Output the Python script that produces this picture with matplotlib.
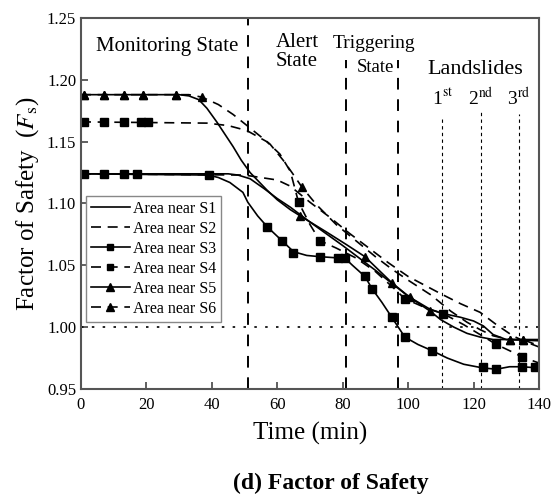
import matplotlib
matplotlib.use("Agg")
import matplotlib.pyplot as plt

plt.rcParams['font.family'] = ['Liberation Serif', 'DejaVu Serif']
plt.rcParams['mathtext.fontset'] = 'stix'

# ---------------------- data ----------------------
# Area near S1 (solid, no marker)
s1_t = [0, 45, 48, 51.7, 56, 60, 64, 70, 80, 90, 100, 107, 110.7, 116, 120, 123, 126, 130, 140]
s1_f = [1.124, 1.124, 1.123, 1.120, 1.112, 1.104, 1.097, 1.085, 1.066, 1.046, 1.025, 1.014,
        1.011, 1.008, 1.005, 1.001, 0.994, 0.990, 0.989]

# Area near S2 (dashed, no marker)
s2_t = [0, 50, 55, 60, 64, 70, 76, 82, 88, 94, 100, 105, 110, 116, 122, 127, 132, 136, 140]
s2_f = [1.124, 1.123, 1.121, 1.119, 1.114, 1.101, 1.089, 1.076, 1.064, 1.052, 1.041, 1.034,
        1.027, 1.019, 1.012, 1.002, 0.993, 0.988, 0.984]

# Area near S3 (solid, squares)
s3_t = [0, 39, 42, 45.5, 49.5, 51, 54, 57, 61, 65, 69, 73, 78.6, 81, 83, 86.8, 89, 92, 95, 99,
        103, 107.3, 112, 117, 122.9, 127, 131, 134.8, 140]
s3_f = [1.124, 1.123, 1.121, 1.117, 1.109, 1.101, 1.090, 1.081, 1.071, 1.061, 1.058, 1.057,
        1.056, 1.055, 1.050, 1.041, 1.031, 1.020, 1.008, 0.992, 0.986, 0.981, 0.975, 0.970,
        0.967, 0.966, 0.968, 0.968, 0.967]
s3_mt = [1, 7, 13, 17, 39, 57, 61.3, 64.8, 73, 78.6, 80.7, 86.8, 89, 95, 99, 107.3, 122.9, 127,
         134.8, 138.8]
s3_mf = [1.124, 1.124, 1.124, 1.124, 1.123, 1.081, 1.070, 1.060, 1.057, 1.056, 1.056, 1.041,
         1.031, 1.008, 0.992, 0.981, 0.968, 0.966, 0.968, 0.968]

# Area near S4 (dashed, squares)
s4_t = [0, 38.5, 45, 50.7, 56.8, 60.8, 64, 66.5, 70, 73, 78, 84, 90, 95, 99, 105, 110.7, 117,
        122, 127, 131, 134.8, 140]
s4_f = [1.166, 1.165, 1.163, 1.159, 1.150, 1.140, 1.126, 1.101, 1.083, 1.070, 1.064, 1.056,
        1.045, 1.033, 1.023, 1.016, 1.011, 1.002, 0.994, 0.986, 0.981, 0.976, 0.971]
s4_mt = [1, 7, 13, 18.5, 20.5, 66.5, 73, 99, 110.7, 127, 134.8]
s4_mf = [1.166, 1.166, 1.166, 1.166, 1.166, 1.101, 1.070, 1.023, 1.011, 0.986, 0.976]

# Area near S5 (solid, triangles)
s5_t = [0, 30, 33, 36, 38.5, 41.5, 44, 46.5, 49, 51.7, 56.8, 60, 64, 67, 75, 81, 86.8, 95,
        100.6, 106.7, 110, 114, 118, 122, 126, 131, 135, 140]
s5_f = [1.188, 1.188, 1.187, 1.184, 1.177, 1.166, 1.156, 1.146, 1.135, 1.125, 1.111, 1.103,
        1.095, 1.090, 1.077, 1.067, 1.057, 1.036, 1.024, 1.013, 1.006, 1.000, 0.995, 0.992,
        0.990, 0.990, 0.990, 0.990]
s5_mt = [1, 7, 13, 19, 29, 67, 86.8, 95, 100.6, 106.7, 131, 135]
s5_mf = [1.188, 1.188, 1.188, 1.188, 1.188, 1.090, 1.057, 1.036, 1.024, 1.013, 0.990, 0.990]

# Area near S6 (dashed, triangles)
s6_t = [0, 33, 37, 42, 46.5, 51.7, 57.8, 61.8, 64.5, 67.6, 72, 78, 84, 90, 95, 100, 107, 113,
        118, 122, 126, 131, 135, 140]
s6_f = [1.188, 1.188, 1.186, 1.180, 1.172, 1.161, 1.148, 1.135, 1.125, 1.113, 1.099, 1.083,
        1.070, 1.057, 1.047, 1.038, 1.026, 1.013, 1.004, 0.998, 0.993, 0.990, 0.990, 0.985]
s6_mt = [1, 7, 13, 19, 29, 37, 67.6, 131, 135]
s6_mf = [1.188, 1.188, 1.188, 1.188, 1.188, 1.186, 1.113, 0.990, 0.990]

state_lines = [51, 81, 97]            # state boundaries (min)
state_tops = [1.25, 1.216, 1.216]
slide_lines = [110.4, 122.3, 133.9]   # landslide times (min)
slide_tops = [1.170, 1.176, 1.172]
slide_labels = ['1$^{\\mathrm{st}}$', '2$^{\\mathrm{nd}}$', '3$^{\\mathrm{rd}}$']
# ----------------------------------------------------------------------

fig = plt.figure(figsize=(5.52, 5.0), dpi=100)
ax = fig.add_axes([0.1467, 0.222, 0.8297, 0.742])

dash = (0, (6, 4))
lw = 1.2
ax.plot(s1_t, s1_f, '-', color='k', lw=lw)
ax.plot(s2_t, s2_f, color='k', lw=lw, ls=dash)
ax.plot(s3_t, s3_f, '-', color='k', lw=lw)
ax.plot(s3_mt, s3_mf, 's', color='k', ms=5.5)
ax.plot(s4_t, s4_f, color='k', lw=lw, ls=dash)
ax.plot(s4_mt, s4_mf, 's', color='k', ms=5.5)
ax.plot(s5_t, s5_f, '-', color='k', lw=lw)
ax.plot(s5_mt, s5_mf, '^', color='k', ms=6)
ax.plot(s6_t, s6_f, color='k', lw=lw, ls=dash)
ax.plot(s6_mt, s6_mf, '^', color='k', ms=6)

# legend proxies
h1, = ax.plot([], [], '-', color='k', lw=lw)
h2, = ax.plot([], [], color='k', lw=lw, ls=dash)
h3, = ax.plot([], [], '-s', color='k', lw=lw, ms=5)
h4, = ax.plot([], [], 's', color='k', lw=lw, ls=dash, ms=5)
h5, = ax.plot([], [], '-^', color='k', lw=lw, ms=5.5)
h6, = ax.plot([], [], '^', color='k', lw=lw, ls=dash, ms=5.5)

# state boundaries and landslide markers
for x, top in zip(state_lines, state_tops):
    ax.plot([x, x], [0.95, top], color='k', lw=1.4, ls=(0, (6, 5)))
for x, top in zip(slide_lines, slide_tops):
    ax.plot([x, x], [0.95, top], color='k', lw=0.8, ls=(0, (3, 3)))
ax.axhline(1.0, color='k', lw=1.2, ls=(0, (1.5, 5)))

ax.text(26.3, 1.2266, 'Monitoring State', ha='center', va='center', fontsize=15)
ax.text(66, 1.2225, 'Alert\nState', ha='center', va='center', fontsize=15, linespacing=0.95)
ax.text(89.6, 1.229, 'Triggering', ha='center', va='center', fontsize=14)
ax.text(90, 1.2097, 'State', ha='center', va='center', fontsize=13.5)
ax.text(120.5, 1.2085, 'Landslides', ha='center', va='center', fontsize=16)
for x, lab in zip(slide_lines, slide_labels):
    ax.text(x, 1.185, lab, ha='center', va='center', fontsize=14)

ax.set_xlim(0, 140)
ax.set_ylim(0.95, 1.25)
ax.set_xticks(range(0, 141, 20))
ax.set_yticks([0.95, 1.00, 1.05, 1.10, 1.15, 1.20, 1.25])
ax.yaxis.set_major_formatter(matplotlib.ticker.FormatStrFormatter('%.2f'))
ax.tick_params(direction='in', length=5, width=1.2, labelsize=12, color='#444444')
ax.tick_params(axis='x', pad=6)
for s in ax.spines.values():
    s.set_linewidth(1.5)
    s.set_color('#555555')

ax.set_xlabel('Time (min)', fontsize=18, labelpad=6)
ax.set_ylabel('Factor of Safety  ($F_{\\mathrm{s}}$)', fontsize=18, labelpad=4)

leg = ax.legend([h1, h2, h3, h4, h5, h6],
                ['Area near S1', 'Area near S2', 'Area near S3',
                 'Area near S4', 'Area near S5', 'Area near S6'],
                loc='upper left', bbox_to_anchor=(0.012, 0.52), fontsize=11.5,
                fancybox=False, edgecolor='#888888', framealpha=1,
                handlelength=2.4, handletextpad=0.2, labelspacing=0.25,
                borderpad=0.3, borderaxespad=0)
leg.get_frame().set_linewidth(1.0)

fig.text(0.6, 0.034, '(d) Factor of Safety', ha='center', va='center',
         fontsize=17, fontweight='bold')

fig.savefig('out.png', dpi=100)
